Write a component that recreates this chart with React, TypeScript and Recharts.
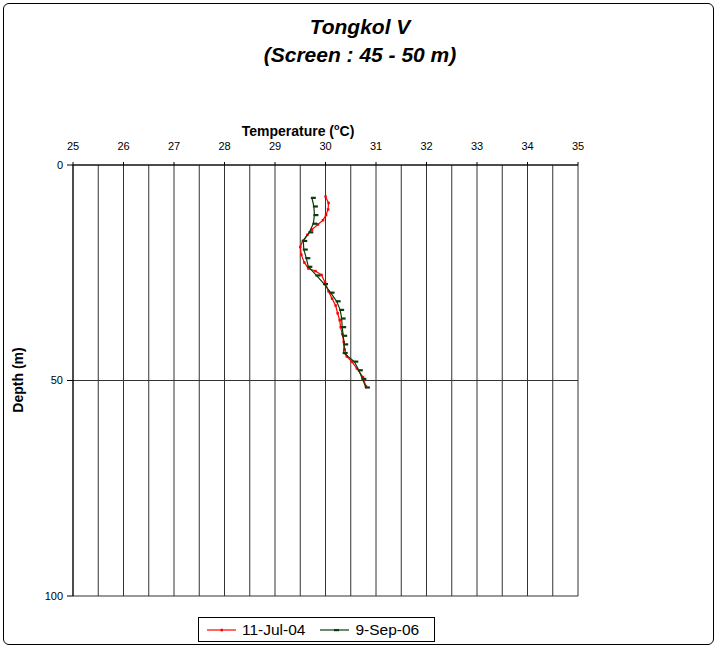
import React from 'react';
import { ScatterChart, Scatter, XAxis, YAxis, CartesianGrid } from 'recharts';

// 11-Jul-04 profile
const depthsJul04 = [7.3, 8.8, 10.3, 11.6, 12.8, 13.8, 15.0, 16.2, 17.6, 19.0, 20.8, 22.6, 24.0, 24.6, 25.5, 27.2, 29.3, 31.0, 32.6, 34.4, 36.0, 37.6, 39.2, 41.0, 42.8, 44.4, 45.6, 47.2, 49.2, 51.3];
const tempsJul04 = [30.0, 30.06, 30.05, 30.01, 29.95, 29.85, 29.73, 29.64, 29.55, 29.5, 29.52, 29.58, 29.66, 29.8, 29.92, 29.99, 30.06, 30.13, 30.2, 30.24, 30.28, 30.3, 30.33, 30.36, 30.38, 30.42, 30.52, 30.62, 30.74, 30.8];

// 9-Sep-06 profile
const depthsSep06 = [7.6, 9.6, 11.6, 13.6, 15.6, 17.6, 19.6, 21.6, 23.6, 25.6, 27.6, 29.6, 31.6, 33.6, 35.6, 37.6, 39.6, 41.6, 43.6, 45.6, 47.6, 49.6, 51.6];
const tempsSep06 = [29.73, 29.77, 29.78, 29.76, 29.68, 29.56, 29.57, 29.62, 29.66, 29.82, 29.97, 30.1, 30.22, 30.29, 30.32, 30.33, 30.35, 30.37, 30.36, 30.57, 30.66, 30.73, 30.8];

const tempTicks = [25, 25.5, 26, 26.5, 27, 27.5, 28, 28.5, 29, 29.5, 30, 30.5, 31, 31.5, 32, 32.5, 33, 33.5, 34, 34.5, 35];
const depthTicks = [0, 50, 100];
const seriesNames = ['11-Jul-04', '9-Sep-06'];

const RED = '#ff0000';
const GREEN = '#0a3d0a';
const FONT = '"Liberation Sans", Arial, sans-serif';

const jul04 = depthsJul04.map((d, i) => ({ depth: d, temp: tempsJul04[i] }));
const sep06 = depthsSep06.map((d, i) => ({ depth: d, temp: tempsSep06[i] }));

const TempTick = (props: any) => {
  const { x, y, payload } = props;
  if (!Number.isInteger(payload.value)) return null;
  return (
    <g>
      <line x1={x} x2={x} y1={y + 9} y2={y + 12} stroke="#000" />
      <text x={x} y={y - 3} textAnchor="middle" fontSize={11} fontFamily={FONT} fill="#000">
        {payload.value}
      </text>
    </g>
  );
};

const redDot = (p: any) => (
  <rect x={p.cx - 1.2} y={p.cy - 1.2} width={2.5} height={2.5} fill={RED} />
);
const greenDash = (p: any) => (
  <rect x={p.cx - 1} y={p.cy - 1} width={5} height={2.2} fill={GREEN} />
);

const titleStyle: React.CSSProperties = {
  position: 'absolute', left: 0, width: 720, textAlign: 'center',
  fontSize: 21, fontWeight: 'bold', fontStyle: 'italic', lineHeight: '24px',
};

export default function App() {
  return (
    <div style={{ position: 'absolute', left: 0, top: 0, width: 720, height: 650, background: '#fff', fontFamily: FONT }}>
      <div
        style={{
          position: 'absolute', left: 3, top: 3, width: 709, height: 640,
          border: '1px solid #000', borderRadius: 6,
        }}
      />
      <div style={{ ...titleStyle, top: 15 }}>Tongkol V</div>
      <div style={{ ...titleStyle, top: 43 }}>(Screen : 45 - 50 m)</div>
      <div style={{ position: 'absolute', left: 198, width: 200, top: 119, textAlign: 'center', fontSize: 14, fontWeight: 'bold', lineHeight: '16px' }}>
        Temperature (<sup style={{ fontSize: 9 }}>o</sup>C)
      </div>
      <div
        style={{
          position: 'absolute', left: 18 - 50, top: 380 - 8, width: 100, textAlign: 'center',
          fontSize: 14, fontWeight: 'bold', lineHeight: '16px', transform: 'rotate(-90deg)',
        }}
      >
        Depth (m)
      </div>

      <div style={{ position: 'absolute', left: 0, top: 0 }}>
        <ScatterChart width={720} height={650} margin={{ top: 135, left: 33, right: 142, bottom: 54 }}>
          <CartesianGrid stroke="#333" strokeWidth={1} />
          <XAxis
            type="number"
            dataKey="temp"
            orientation="top"
            domain={[25, 35]}
            ticks={tempTicks}
            interval={0}
            height={30}
            tickLine={false}
            tickSize={3}
            tickMargin={9}
            tick={<TempTick />}
            axisLine={{ stroke: '#000' }}
          />
          <YAxis
            type="number"
            dataKey="depth"
            domain={[0, 100]}
            reversed
            ticks={depthTicks}
            interval={0}
            width={40}
            tickSize={6}
            tickMargin={4}
            tickLine={{ stroke: '#000' }}
            axisLine={{ stroke: '#000' }}
            tick={{ fontSize: 11, fill: '#000', fontFamily: FONT }}
          />
          <Scatter
            name={seriesNames[0]}
            data={jul04}
            line={{ stroke: RED, strokeWidth: 1.2 }}
            lineType="joint"
            shape={redDot}
            isAnimationActive={false}
          />
          <Scatter
            name={seriesNames[1]}
            data={sep06}
            line={{ stroke: GREEN, strokeWidth: 1.2 }}
            lineType="joint"
            shape={greenDash}
            isAnimationActive={false}
          />
        </ScatterChart>
      </div>

      <div
        style={{
          position: 'absolute', left: 198, top: 617, width: 237, height: 25,
          border: '1px solid #000', boxSizing: 'border-box', display: 'flex', alignItems: 'center',
          fontSize: 15.5,
        }}
      >
        <svg width={40} height={10} style={{ marginLeft: 6 }}>
          <line x1={2} x2={31} y1={5} y2={5} stroke={RED} strokeWidth={1.2} />
          <rect x={15.5} y={3.8} width={2.5} height={2.5} fill={RED} />
        </svg>
        <span style={{ marginLeft: -3 }}>{seriesNames[0]}</span>
        <svg width={40} height={10} style={{ marginLeft: 13 }}>
          <line x1={2} x2={31} y1={5} y2={5} stroke={GREEN} strokeWidth={1.2} />
          <rect x={16} y={4} width={5} height={2.2} fill={GREEN} />
        </svg>
        <span style={{ marginLeft: -3 }}>{seriesNames[1]}</span>
      </div>
    </div>
  );
}
